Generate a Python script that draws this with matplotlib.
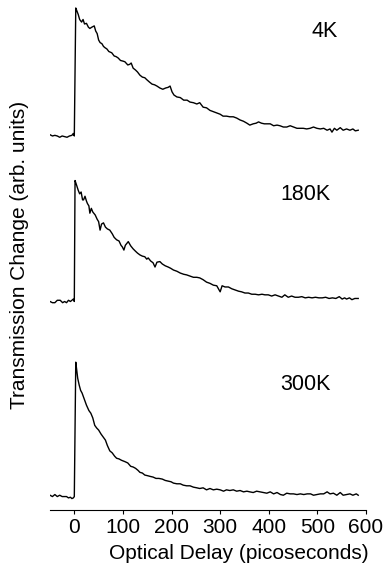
import numpy as np
import matplotlib
matplotlib.use('Agg')
import matplotlib.pyplot as plt

plt.rcParams['font.family'] = ['Liberation Sans', 'DejaVu Sans']

# Traces: optical delay (ps) and normalised transmission change
delay_4k = [-50, -45, -40, -35, -30, -25, -20, -15, -10, -5, -2, 0, 3, 5, 8, 11, 15, 18, 21, 25,
            29, 32, 36, 41, 44, 47, 50, 53, 57, 60, 63, 67, 71, 77, 82, 86, 90, 95, 100, 104,
            110, 114, 117, 121, 126, 130, 135, 140, 145, 149, 155, 160, 165, 170, 176, 182, 188, 193, 197, 201,
            205, 211, 218, 225, 232, 238, 245, 252, 258, 265, 272, 279, 286, 293, 300, 306, 313, 320, 327, 334,
            341, 348, 355, 361, 368, 374, 379, 385, 391, 397, 403, 410, 417, 423, 430, 437, 444, 451, 458, 465,
            471, 478, 485, 492, 499, 506, 513, 520, 526, 530, 535, 540, 547, 553, 560, 567, 573, 578, 584]
signal_4k = [0.01, 0.0, 0.005, 0.0, -0.01, 0.0, -0.005, -0.01, 0.0, 0.005, 0.02, 0.0, 1.0, 0.98, 0.95, 0.91, 0.89, 0.91, 0.875, 0.88,
             0.85, 0.84, 0.85, 0.86, 0.82, 0.80, 0.75, 0.73, 0.72, 0.70, 0.69, 0.68, 0.66, 0.65, 0.625, 0.62, 0.61, 0.59, 0.585, 0.58,
             0.555, 0.56, 0.57, 0.53, 0.515, 0.50, 0.475, 0.46, 0.455, 0.44, 0.42, 0.405, 0.40, 0.39, 0.375, 0.365, 0.375, 0.38, 0.39, 0.345,
             0.32, 0.305, 0.30, 0.28, 0.28, 0.265, 0.26, 0.25, 0.26, 0.225, 0.22, 0.20, 0.19, 0.18, 0.17, 0.155, 0.155, 0.15, 0.15, 0.14,
             0.125, 0.115, 0.10, 0.085, 0.095, 0.10, 0.11, 0.10, 0.095, 0.095, 0.095, 0.08, 0.085, 0.08, 0.07, 0.07, 0.08, 0.07, 0.06, 0.06,
             0.06, 0.055, 0.06, 0.07, 0.06, 0.055, 0.06, 0.045, 0.055, 0.03, 0.06, 0.045, 0.065, 0.045, 0.055, 0.045, 0.055, 0.04, 0.045]

delay_180k = [-50, -45, -40, -35, -29, -24, -20, -16, -12, -8, -5, -2, 0, 1.5, 4, 8, 11, 14, 17, 19,
              22, 25, 27, 30, 32, 35, 38, 43, 47, 50, 53, 56, 60, 64, 68, 73, 78, 82, 87, 92,
              96, 99, 102, 105, 111, 116, 121, 126, 130, 135, 140, 145, 149, 152, 157, 162, 166, 170, 176, 181,
              187, 193, 198, 204, 211, 218, 225, 231, 238, 245, 252, 258, 265, 272, 279, 286, 293, 300, 304, 310,
              317, 324, 331, 338, 344, 351, 358, 365, 372, 379, 386, 392, 399, 406, 413, 420, 427, 433, 440, 447,
              454, 461, 468, 475, 482, 489, 496, 503, 510, 517, 524, 531, 538, 545, 551, 556, 560, 566, 571, 577, 584]
signal_180k = [0.0, -0.01, -0.01, 0.01, 0.01, -0.01, 0.0, -0.01, 0.01, 0.0, 0.01, 0.02, 0.0, 1.0, 0.97, 0.92, 0.89, 0.905, 0.84, 0.84,
               0.87, 0.83, 0.81, 0.79, 0.73, 0.77, 0.74, 0.715, 0.68, 0.66, 0.59, 0.64, 0.65, 0.615, 0.60, 0.59, 0.56, 0.53, 0.51, 0.50,
               0.465, 0.45, 0.425, 0.465, 0.495, 0.46, 0.435, 0.415, 0.40, 0.385, 0.375, 0.37, 0.35, 0.36, 0.335, 0.32, 0.285, 0.325, 0.33, 0.31,
               0.295, 0.285, 0.275, 0.26, 0.25, 0.235, 0.225, 0.22, 0.21, 0.20, 0.20, 0.195, 0.18, 0.16, 0.15, 0.135, 0.13, 0.08, 0.13, 0.12,
               0.12, 0.105, 0.095, 0.085, 0.08, 0.07, 0.07, 0.06, 0.06, 0.055, 0.06, 0.055, 0.055, 0.045, 0.055, 0.045, 0.035, 0.055, 0.035, 0.045,
               0.035, 0.035, 0.04, 0.03, 0.035, 0.03, 0.035, 0.03, 0.03, 0.035, 0.025, 0.03, 0.025, 0.04, 0.02, 0.03, 0.02, 0.03, 0.015, 0.025, 0.025]

delay_300k = [-50, -45, -40, -35, -30, -25, -20, -16, -12, -8, -5, -2, 0, 3, 5, 7, 10, 13, 16, 20,
              25, 30, 34, 38, 42, 46, 50, 55, 60, 64, 68, 73, 78, 83, 87, 92, 97, 104, 110, 116,
              121, 126, 131, 135, 140, 145, 151, 156, 162, 168, 174, 181, 187, 193, 199, 204, 211, 218, 224, 231,
              238, 245, 252, 258, 265, 272, 279, 286, 293, 300, 307, 313, 320, 327, 334, 341, 348, 355, 361, 368,
              375, 382, 389, 396, 403, 410, 417, 424, 430, 437, 444, 451, 458, 465, 472, 479, 486, 492, 499, 506,
              513, 520, 526, 533, 540, 547, 553, 560, 567, 573, 580, 584]
signal_300k = [0.01, 0.0, 0.015, 0.0, 0.01, 0.0, 0.0, 0.0, -0.01, -0.005, -0.015, -0.01, 0.0, 1.0, 0.94, 0.88, 0.83, 0.79, 0.77, 0.73,
               0.68, 0.64, 0.62, 0.585, 0.53, 0.51, 0.495, 0.465, 0.44, 0.42, 0.38, 0.34, 0.325, 0.30, 0.285, 0.28, 0.27, 0.26, 0.25, 0.225,
               0.22, 0.21, 0.195, 0.18, 0.175, 0.16, 0.155, 0.15, 0.145, 0.135, 0.135, 0.13, 0.12, 0.115, 0.11, 0.10, 0.095, 0.095, 0.085, 0.08,
               0.08, 0.07, 0.065, 0.06, 0.065, 0.05, 0.06, 0.05, 0.055, 0.05, 0.04, 0.05, 0.045, 0.05, 0.04, 0.045, 0.035, 0.04, 0.035, 0.03,
               0.04, 0.035, 0.03, 0.025, 0.035, 0.02, 0.03, 0.015, 0.01, 0.025, 0.02, 0.02, 0.015, 0.02, 0.015, 0.02, 0.02, 0.01, 0.015, 0.02,
               0.02, 0.035, 0.02, 0.025, 0.01, 0.03, 0.01, 0.015, 0.02, 0.01, 0.02, 0.01]

temperatures = ['4K', '180K', '300K']
peak_amplitude = [1.0, 0.945, 1.05]  # relative peak heights
xticks = [0, 100, 200, 300, 400, 500, 600]

delays = [delay_4k, delay_180k, delay_300k]
signals = [signal_4k, signal_180k, signal_300k]
offsets = [2.922, 1.629, 0.105]  # vertical stacking of the traces
label_pos = [(514, 3.742), (476, 2.461), (476, 0.98)]

fig = plt.figure(figsize=(3.86, 5.70), dpi=100)
ax = fig.add_axes([50 / 386, 1 - 510 / 570, 316 / 386, 510 / 570])

for d, s, amp, off, name, pos in zip(delays, signals, peak_amplitude, offsets, temperatures, label_pos):
    ax.plot(d, off + amp * np.array(s), color='black', linewidth=1.0)
    ax.text(pos[0], pos[1], name, fontsize=15.5, ha='center', va='center')

ax.set_xlim(-50, 600)
ax.set_ylim(0, 510 / 128)
ax.set_xticks(xticks)
ax.tick_params(axis='x', direction='out', length=3, width=0.8, labelsize=15, pad=2.5)
ax.set_yticks([])
for side in ['left', 'top', 'right']:
    ax.spines[side].set_visible(False)
ax.spines['bottom'].set_linewidth(0.8)

ax.set_xlabel('Optical Delay (picoseconds)', fontsize=15)
ax.xaxis.set_label_coords(0.597, -0.066)
ax.set_ylabel('Transmission Change (arb. units)', fontsize=15)
ax.yaxis.set_label_coords(-0.065, 0.5)

fig.savefig('out.png', dpi=100)
